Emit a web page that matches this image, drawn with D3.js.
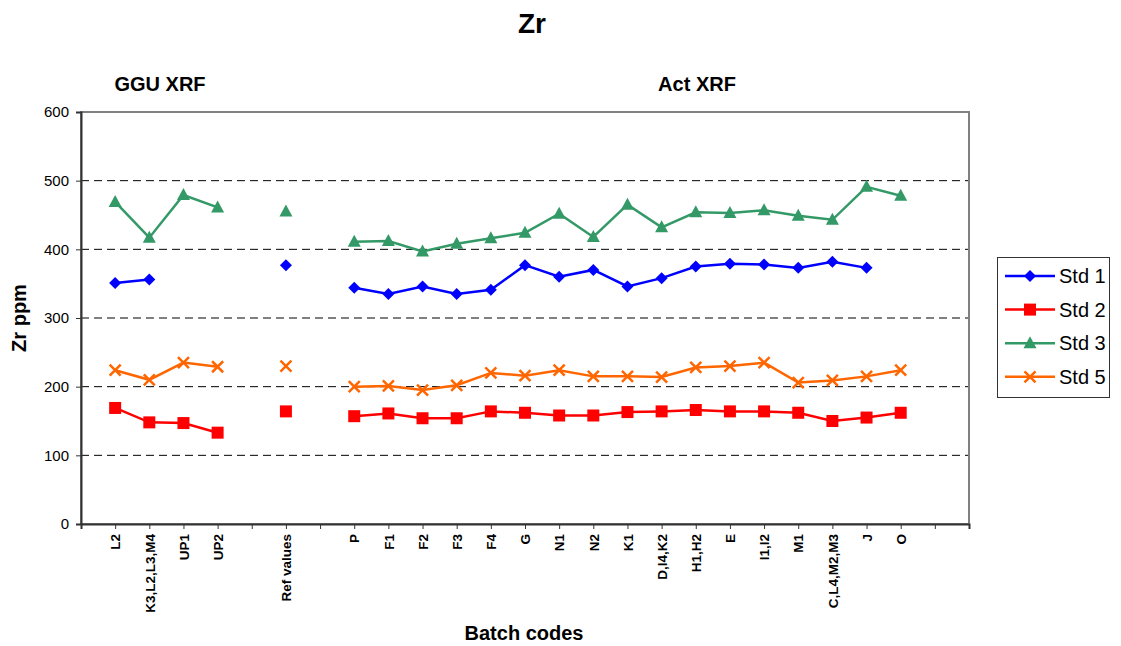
<!DOCTYPE html>
<html><head><meta charset="utf-8">
<script src="https://cdn.jsdelivr.net/npm/d3@7"></script>
<style>body{margin:0;background:#fff;} text{font-family:Arial,"Liberation Sans",sans-serif;}</style>
</head><body>
<svg id="c" width="1121" height="646"></svg>
<script>
const categories = ["", "L2", "K3,L2,L3,M4", "UP1", "UP2", " ", "Ref values", "  ", "P", "F1", "F2", "F3", "F4", "G", "N1", "N2", "K1", "D,I4,K2", "H1,H2", "E", "I1,I2", "M1", "C,L4,M2,M3", "J", "O", "   ", "    "];
const std1 = [null, 351, 356, null, null, null, 377, null, 344, 335, 346, 335, 341, 377, 360, 370, 346, 358, 375, 379, 378, 373, 382, 373, null, null, null];
const std2 = [null, 169, 148, 147, 133, null, 164, null, 157, 161, 154, 154, 164, 162, 158, 158, 163, 164, 166, 164, 164, 162, 150, 155, 162, null, null];
const std3 = [null, 469, 417, 479, 461, null, 455, null, 411, 412, 397, 408, 416, 424, 452, 418, 465, 432, 454, 453, 457, 449, 443, 491, 478, null, null];
const std5 = [null, 224, 210, 235, 229, null, 230, null, 200, 201, 195, 202, 220, 216, 224, 215, 215, 214, 228, 230, 235, 206, 209, 215, 224, null, null];
const yTicks = [0, 100, 200, 300, 400, 500, 600];
const seriesNames = ["Std 1", "Std 2", "Std 3", "Std 5"];
const seriesColors = ["#0000FF", "#FF0000", "#339966", "#FF6600"];
const seriesShapes = ["diamond", "square", "triangle", "x"];

const series = [std1, std2, std3, std5].map((v, i) => ({name: seriesNames[i], values: v, color: seriesColors[i], shape: seriesShapes[i]}));

const svg = d3.select("#c");
const L = 81, R = 969, T = 112, B = 524;
const x = d3.scalePoint().domain(categories).range([L, R]);
const y = d3.scaleLinear().domain([0, 600]).range([B, T]);

// gridlines
svg.append("g").selectAll("line").data(yTicks.filter(d => d > 0)).join("line")
  .attr("x1", L).attr("x2", R).attr("y1", d => y(d)).attr("y2", d => y(d))
  .attr("stroke", "#000").attr("stroke-width", 1).attr("stroke-dasharray", "8,5");

// plot area border (gray)
svg.append("rect").attr("x", L).attr("y", T).attr("width", R - L).attr("height", B - T)
  .attr("fill", "none").attr("stroke", "#808080").attr("stroke-width", 2);

// axes
const yAxis = d3.axisLeft(y).tickValues(yTicks).tickSize(5).tickPadding(7);
const gy = svg.append("g").attr("transform", `translate(${L},0)`).call(yAxis);
gy.select(".domain").attr("stroke", "#333").attr("stroke-width", 2);
gy.selectAll(".tick line").attr("stroke", "#333");
gy.selectAll("text").attr("font-size", 15).attr("fill", "#000").attr("font-family", "Arial, Liberation Sans, sans-serif");

const xAxis = d3.axisBottom(x).tickSize(5).tickPadding(4);
const gx = svg.append("g").attr("transform", `translate(0,${B})`).call(xAxis);
gx.select(".domain").attr("stroke", "#333").attr("stroke-width", 2);
gx.selectAll(".tick line").attr("stroke", "#333");
gx.selectAll("text").attr("font-size", 13.5).attr("font-weight", "bold").attr("fill", "#000")
  .attr("font-family", "Arial, Liberation Sans, sans-serif")
  .attr("transform", "rotate(-90)").attr("text-anchor", "end").attr("dy", "0.35em").attr("x", -10).attr("y", 0);

// lines
const line = d3.line().defined(d => d.v != null).x(d => x(d.c)).y(d => y(d.v));
series.forEach(s => {
  const pts = categories.map((c, i) => ({c, v: s.values[i]}));
  svg.append("path").datum(pts).attr("d", line).attr("fill", "none")
    .attr("stroke", s.color).attr("stroke-width", 2.5);
});

function marker(g, shape, color, cx, cy) {
  if (shape === "diamond") {
    g.append("path").attr("d", `M${cx},${cy-6}L${cx+6},${cy}L${cx},${cy+6}L${cx-6},${cy}Z`).attr("fill", color);
  } else if (shape === "square") {
    g.append("rect").attr("x", cx - 6).attr("y", cy - 6).attr("width", 12).attr("height", 12).attr("fill", color);
  } else if (shape === "triangle") {
    g.append("path").attr("d", `M${cx},${cy-7}L${cx+6.5},${cy+5}L${cx-6.5},${cy+5}Z`).attr("fill", color);
  } else {
    g.append("path").attr("d", `M${cx-5.5},${cy-5.5}L${cx+5.5},${cy+5.5}M${cx+5.5},${cy-5.5}L${cx-5.5},${cy+5.5}`)
      .attr("stroke", color).attr("stroke-width", 2.5);
  }
}
series.forEach(s => {
  const g = svg.append("g");
  categories.forEach((c, i) => {
    if (s.values[i] != null) marker(g, s.shape, s.color, x(c), y(s.values[i]));
  });
});

// titles
svg.append("text").attr("x", 532).attr("y", 33).attr("text-anchor", "middle")
  .attr("font-size", 28).attr("font-weight", "bold").text("Zr");
svg.append("text").attr("x", 160).attr("y", 91).attr("text-anchor", "middle")
  .attr("font-size", 20).attr("font-weight", "bold").text("GGU XRF");
svg.append("text").attr("x", 697).attr("y", 91).attr("text-anchor", "middle")
  .attr("font-size", 20).attr("font-weight", "bold").text("Act XRF");
svg.append("text").attr("transform", "translate(26,318) rotate(-90)").attr("text-anchor", "middle")
  .attr("font-size", 20).attr("font-weight", "bold").text("Zr ppm");
svg.append("text").attr("x", 524).attr("y", 640).attr("text-anchor", "middle")
  .attr("font-size", 20).attr("font-weight", "bold").text("Batch codes");

// legend
const lg = svg.append("g");
lg.append("rect").attr("x", 997.5).attr("y", 257.5).attr("width", 112).attr("height", 140)
  .attr("fill", "#fff").attr("stroke", "#333").attr("stroke-width", 1);
series.forEach((s, i) => {
  const yy = 276 + i * 33.6;
  lg.append("line").attr("x1", 1005).attr("x2", 1055).attr("y1", yy).attr("y2", yy)
    .attr("stroke", s.color).attr("stroke-width", 2.5);
  marker(lg, s.shape, s.color, 1030, yy);
  lg.append("text").attr("x", 1059).attr("y", yy).attr("dy", "0.36em")
    .attr("font-size", 20).text(s.name);
});
</script>
</body></html>
